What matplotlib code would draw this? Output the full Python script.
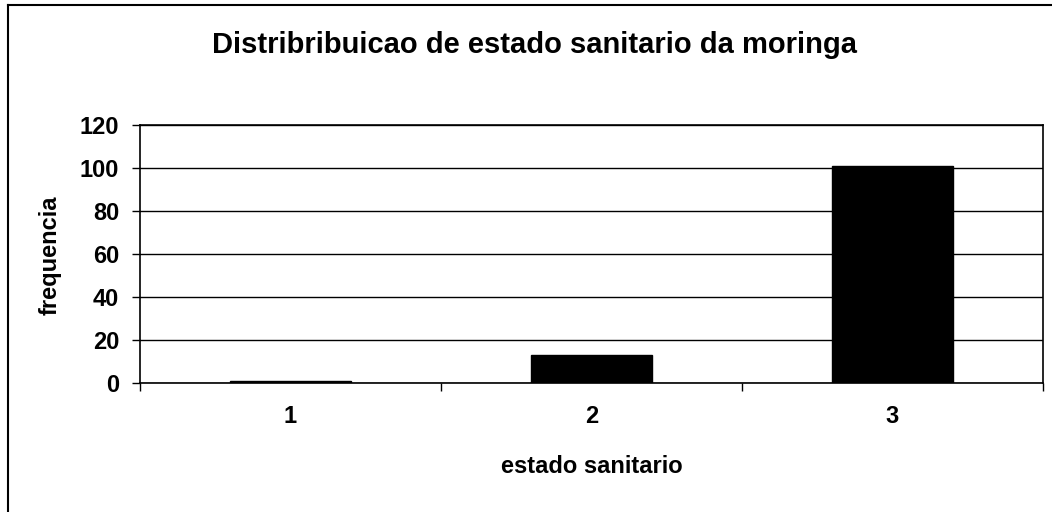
import matplotlib
matplotlib.use("Agg")
import matplotlib.pyplot as plt
from matplotlib.lines import Line2D

categories = ["1", "2", "3"]
values = [1, 13, 101]
yticks = [0, 20, 40, 60, 80, 100, 120]
title = "Distribribuicao de estado sanitario da moringa"
xlabel = "estado sanitario"
ylabel = "frequencia"

plt.rcParams['font.family'] = ['Liberation Sans', 'DejaVu Sans']

W, H = 1052, 512
fig = plt.figure(figsize=(W/100, H/100), dpi=100)
ax = fig.add_axes([140/W, 1-383/H, (1043-140)/W, (383-125)/H])

x = list(range(len(categories)))
ax.bar(x, values, width=0.4, color='black', edgecolor='black', zorder=3)
ax.set_xlim(-0.5, len(categories) - 0.5)
ax.set_ylim(0, 120)
ax.set_yticks(yticks)
ax.set_yticklabels([str(v) for v in yticks], fontsize=17, fontweight='bold')
ax.set_xticks(x)
ax.set_xticklabels(categories, fontsize=17, fontweight='bold')
ax.tick_params(axis='x', length=0, pad=16)
ax.set_xticks([i - 0.5 for i in range(len(categories) + 1)], minor=True)
ax.tick_params(axis='x', which='minor', length=6, width=1, color='black', direction='out')
ax.tick_params(axis='y', length=6, width=1, direction='out', pad=9)
ax.yaxis.grid(True, color='black', linewidth=1, zorder=0)
ax.set_axisbelow(True)
for s in ax.spines.values():
    s.set_color('black')
    s.set_linewidth(1.2)

fig.text(592/W, 1-473/H, xlabel, fontsize=17, fontweight='bold', ha='center', va='baseline')
fig.text(50/W, 1-255/H, ylabel, fontsize=17, fontweight='bold', ha='center', va='center', rotation=90)
fig.text(535/W, 1-53/H, title, fontsize=21, fontweight='bold', ha='center', va='baseline')

# outer chart frame (left and top edges visible)
fig.add_artist(Line2D([8/W, 8/W], [-0.1, 1-5/H], color='black', linewidth=1.5, transform=fig.transFigure))
fig.add_artist(Line2D([8/W, 1.1], [1-5/H, 1-5/H], color='black', linewidth=1.5, transform=fig.transFigure))

fig.savefig("out.png", dpi=100)
